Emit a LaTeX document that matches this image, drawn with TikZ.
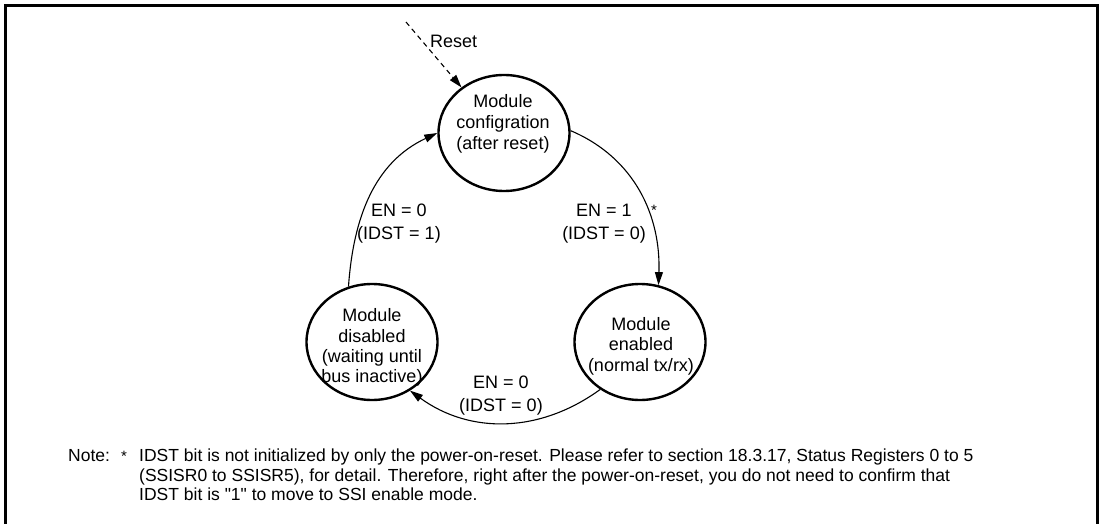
\documentclass[tikz,border=0pt]{standalone}
\usepackage{fontspec}
\setmainfont{Liberation Sans}
\usetikzlibrary{shapes.geometric,arrows.meta}
\begin{document}
\begin{tikzpicture}[x=1pt,y=1pt,
  state/.style={ellipse,draw,line width=2.4pt,minimum width=131pt,minimum height=116pt,inner sep=0pt},
  stext/.style={align=center,font=\fontsize{18}{21}\selectfont,inner sep=0pt},
  lbl/.style={align=center,font=\fontsize{18}{23}\selectfont,inner sep=0pt},
  notef/.style={font=\fontsize{17.5}{20}\selectfont,inner sep=0pt},
  conn/.style={line width=1.1pt,-{Triangle[length=13pt,width=8pt]}},
  frame/.style={line width=2.6pt}]
\useasboundingbox (0,0) rectangle (1103,-524);
\draw[frame] (5.3,-530) -- (5.3,-5.3) -- (1097.3,-5.3) -- (1097.3,-530);

\node[state] (top) at (504,-133) {};
\node[state] (right) at (640,-342) {};
\node[state] (left) at (372,-342) {};

\node[stext] (toptext) at (503,-123.4) {Module\\configration\\(after reset)};
\node[stext,font=\fontsize{18}{20.5}\selectfont] (righttext) at (641,-345.9) {Module\\enabled\\(normal tx/rx)};
\node[stext,font=\fontsize{18}{20.3}\selectfont] (lefttext) at (372,-347.6) {Module\\disabled\\(waiting until\\bus inactive)};

\coordinate (rs) at (406,-22);
\draw[conn,dash pattern=on 5pt off 4pt] (rs) -- (top.133);
\node[lbl,anchor=west] (reset) at (430,-41) {Reset};

\draw[conn] (top.2) to[out=-23,in=88] (right.72);
\draw[conn] (right.230) to[out=216,in=324] (left.-52);
\draw[conn] (left.113) to[out=86,in=205] (top.180);

\node[lbl] (l1) at (399,-224) {EN = 0\\(IDST = 1)};
\node[lbl] (l2) at (604,-224) {EN = 1\\(IDST = 0)};
\node[lbl,font=\fontsize{15}{18}\selectfont] (star) at (654,-210) {*};
\node[lbl] (l3) at (501,-396) {EN = 0\\(IDST = 0)};

\node[notef,anchor=base west] (note) at (68,-461) {Note:};
\node[notef,anchor=base west,font=\fontsize{15}{18}\selectfont] (nstar) at (121,-461) {*};
\node[notef,anchor=base west] (n1) at (139,-461) {IDST bit is not initialized by only the power-on-reset. Please refer to section 18.3.17, Status Registers 0 to 5};
\node[notef,anchor=base west] (n2) at (139,-481) {(SSISR0 to SSISR5), for detail. Therefore, right after the power-on-reset, you do not need to confirm that};
\node[notef,anchor=base west] (n3) at (139,-500.5) {IDST bit is \textquotedbl 1\textquotedbl\ to move to SSI enable mode.};
\end{tikzpicture}
\end{document}
